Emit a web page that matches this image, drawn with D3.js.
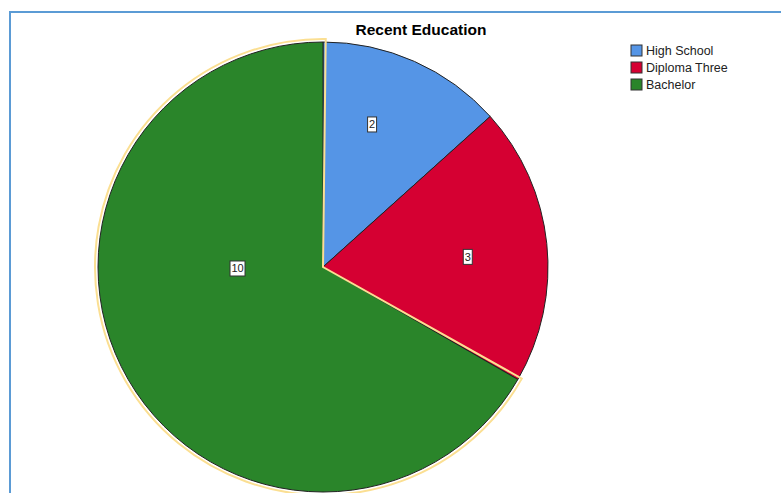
<!DOCTYPE html>
<html>
<head>
<meta charset="utf-8">
<script src="https://cdn.jsdelivr.net/npm/d3@7"></script>
<style>
  body { margin: 0; background: #fff; }
  svg { display: block; font-family: "Liberation Sans", Arial, sans-serif; }
</style>
</head>
<body>
<div id="chart"></div>
<script>
// data van de grafiek
var categories = ['High School', 'Diploma Three', 'Bachelor'];
var counts = [2, 3, 10];
var colors = ['#5595e6', '#d50032', '#2a852a'];

// label plek per slice: hoek (graden) en afstand als deel van de straal
var labelPlacement = [[19, 0.67], [86, 0.645], [269, 0.38]];

var width = 781, height = 493;
var cx = 323, cy = 267, radius = 225;

var svg = d3.select('#chart')
  .append('svg')
  .attr('width', width)
  .attr('height', height);

// rand van het kader
svg.append('rect')
  .attr('x', 10)
  .attr('y', 12)
  .attr('width', width + 20)
  .attr('height', height + 20)
  .attr('fill', 'none')
  .attr('stroke', '#5b9bd5')
  .attr('stroke-width', 2);

// titel
svg.append('text')
  .attr('x', 421)
  .attr('y', 35)
  .attr('text-anchor', 'middle')
  .attr('font-size', 15.5)
  .attr('font-weight', 'bold')
  .text('Recent Education');

var pie = d3.pie()
  .sort(null)
  .value(function(d){ return d; });

var arcs = pie(counts);

var arc = d3.arc()
  .innerRadius(0)
  .outerRadius(radius);

var g = svg.append('g')
  .attr('transform', 'translate(' + cx + ',' + cy + ')');

g.selectAll('.slice')
  .data(arcs)
  .enter().append('path')
  .attr('class', 'slice')
  .attr('d', arc)
  .attr('fill', function(d, i){ return colors[i]; })
  .attr('stroke', '#222')
  .attr('stroke-width', 1);

// gele selectie rand om de grootste slice (Bachelor)
var sel = arcs[2];
var selArc = d3.arc()
  .innerRadius(0)
  .outerRadius(radius + 3)
  .startAngle(sel.startAngle - 0.012)
  .endAngle(sel.endAngle + 0.012);

g.append('path')
  .attr('d', selArc())
  .attr('fill', 'none')
  .attr('stroke', '#fbdf92')
  .attr('stroke-width', 2);

// labels met witte achtergrond
var labels = g.selectAll('.lbl')
  .data(arcs)
  .enter().append('g')
  .attr('class', 'lbl')
  .attr('transform', function(d, i){
    var a = labelPlacement[i][0] * Math.PI / 180;
    var r = labelPlacement[i][1] * radius;
    return 'translate(' + (Math.sin(a) * r) + ',' + (-Math.cos(a) * r) + ')';
  });

labels.append('rect')
  .attr('x', function(d){ return String(d.data).length > 1 ? -7.5 : -4.5; })
  .attr('y', -7.5)
  .attr('width', function(d){ return String(d.data).length > 1 ? 15 : 9; })
  .attr('height', 15)
  .attr('fill', '#fff')
  .attr('stroke', '#333')
  .attr('stroke-width', 1);

labels.append('text')
  .attr('text-anchor', 'middle')
  .attr('dy', '0.35em')
  .attr('font-size', 11)
  .attr('fill', '#222')
  .text(function(d){ return d.data; });

// legenda
var legend = svg.selectAll('.legend')
  .data(categories)
  .enter().append('g')
  .attr('class', 'legend')
  .attr('transform', function(d, i){ return 'translate(631,' + (45 + i * 17) + ')'; });

legend.append('rect')
  .attr('width', 11)
  .attr('height', 11)
  .attr('fill', function(d, i){ return colors[i]; })
  .attr('stroke', '#333')
  .attr('stroke-width', 1);

legend.append('text')
  .attr('x', 15)
  .attr('y', 10)
  .attr('font-size', 12.5)
  .attr('fill', '#222')
  .text(function(d){ return d; });
</script>
</body>
</html>
